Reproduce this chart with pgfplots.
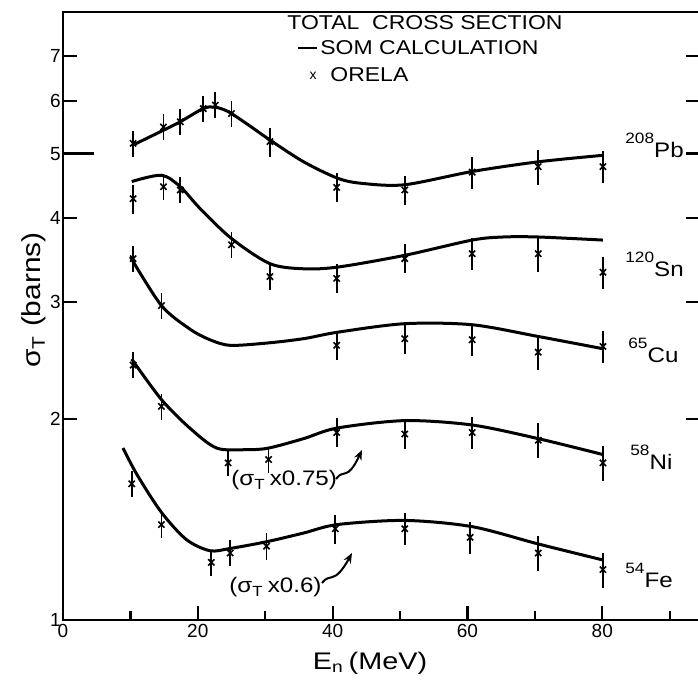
\documentclass[border=0pt]{standalone}
\usepackage{fontspec}
\setmainfont{Liberation Sans}
\usepackage{graphicx}
\usepackage{pgfplots}
\pgfplotsset{compat=1.18}
\usetikzlibrary{arrows.meta}
\newcommand\PX[2]{({(#1)*0.5pt},{(684-(#2))*0.5pt})}
\newcommand\wide[1]{\scalebox{1.15}[1]{#1}}
\newcommand\iso[2]{\wide{\raisebox{7pt}{\fontsize{7.5}{8}\selectfont #1}}\wide{#2}}
\begin{document}
\begin{tikzpicture}
\useasboundingbox (0,0) rectangle (349pt,342pt);
\begin{axis}[
  at={(31.5pt,32pt)}, anchor=south west, scale only axis,
  width=318.5pt, height=304pt,
  xmin=0, xmax=94.5, ymode=log, ymin=1, ymax=8.15,
  clip=false,
  axis line style={line width=1.4pt},
  every tick/.style={black, line width=1.1pt},
  tick align=inside,
  major tick length=7pt, minor tick length=4.5pt,
  xtick={0,20,40,60,80}, xticklabels={0,20,40,60,80},
  minor xtick={10,30,50,70,90},
  xtick pos=left,
  ytick={1,2,3,4,5,6,7}, yticklabels={1,2,3,4,5,6,7},
  minor ytick={},
  /pgf/number format/assume math mode=true,
  tick label style={font=\fontsize{9.5}{11}\selectfont},
  yticklabel style={inner sep=1pt},
  xticklabel style={inner sep=2pt},
]
% longer tick at 5 on the left axis
\draw[line width=1.1pt] (axis cs:0,5) -- (axis cs:4.6,5);
% ---- SOM calculation curves ----
\addplot[black, line width=1.5pt, smooth] coordinates {
 (10.4,5.15) (14.9,5.42) (17.4,5.58) (20.8,5.84) (22.5,5.87) (24.5,5.78)
 (27.5,5.52) (30.7,5.24) (35.7,4.86) (40.8,4.59) (44.5,4.51) (50.7,4.49)
 (60.7,4.70) (70.5,4.86) (80.1,4.97)};
\addplot[black, line width=1.5pt, smooth] coordinates {
 (10.2,4.54) (14.6,4.64) (17.4,4.46) (20.3,4.14) (25,3.73) (30.7,3.42)
 (35.7,3.36) (40.8,3.38) (50.7,3.52) (60.7,3.71) (65.3,3.75) (70.5,3.75) (80.1,3.71)};
\addplot[black, line width=1.5pt, smooth] coordinates {
 (10.0,3.50) (14.6,2.96) (18.8,2.73) (21.8,2.63) (24.8,2.58) (30.2,2.60)
 (35.7,2.64) (40.8,2.70) (50.7,2.78) (60.7,2.77) (70.5,2.66) (80.1,2.55)};
\addplot[black, line width=1.5pt, smooth] coordinates {
 (10.2,2.46) (14.6,2.14) (18.8,1.94) (22.8,1.81) (27.3,1.80) (30.5,1.81)
 (35.7,1.87) (40.7,1.94) (50.7,1.99) (60.7,1.96) (70.5,1.87) (80.1,1.77)};
\addplot[black, line width=1.5pt, smooth] coordinates {
 (8.9,1.81) (11,1.65) (14.6,1.45) (18.3,1.32) (21.8,1.27) (24.8,1.28)
 (30.2,1.31) (35.7,1.35) (40.7,1.39) (50.7,1.41) (60.7,1.38) (70.5,1.30) (80.1,1.23)};
% ---- ORELA data ----
\pgfplotsset{orela/.style={black, only marks, mark=x, mark size=2.2pt,
  mark options={line width=0.8pt},
  error bars/.cd, y dir=both, y explicit relative, error mark=none,
  error bar style={line width=0.9pt}}}
\addplot[orela] coordinates {
 (10.4,5.18) +- (0,0.045) (14.9,5.48) +- (0,0.045) (17.4,5.58) +- (0,0.045)
 (20.8,5.84) +- (0,0.045) (22.6,5.91) +- (0,0.045) (25,5.74) +- (0,0.045)
 (30.7,5.21) +- (0,0.05) (40.6,4.45) +- (0,0.05) (50.7,4.41) +- (0,0.05)
 (60.7,4.69) +- (0,0.055) (70.5,4.78) +- (0,0.06) (80.1,4.78) +- (0,0.055)};
\addplot[orela] coordinates {
 (10.4,4.28) +- (0,0.05) (14.9,4.46) +- (0,0.045) (17.4,4.41) +- (0,0.045)
 (25,3.65) +- (0,0.045) (30.7,3.27) +- (0,0.045) (40.6,3.25) +- (0,0.05)
 (50.7,3.48) +- (0,0.05) (60.7,3.54) +- (0,0.055) (70.5,3.54) +- (0,0.06)
 (80.1,3.32) +- (0,0.055)};
\addplot[orela] coordinates {
 (10.4,3.48) +- (0,0.045) (14.6,2.96) +- (0,0.045) (40.6,2.58) +- (0,0.05)
 (50.7,2.64) +- (0,0.05) (60.7,2.63) +- (0,0.055) (70.5,2.52) +- (0,0.06)
 (80.1,2.57) +- (0,0.055)};
\addplot[orela] coordinates {
 (10.4,2.41) +- (0,0.045) (14.6,2.09) +- (0,0.045) (24.5,1.72) +- (0,0.045)
 (30.5,1.74) +- (0,0.045) (40.6,1.91) +- (0,0.05) (50.7,1.90) +- (0,0.05)
 (60.7,1.91) +- (0,0.055) (70.5,1.86) +- (0,0.06) (80.1,1.72) +- (0,0.06)};
\addplot[orela] coordinates {
 (10.2,1.60) +- (0,0.045) (14.6,1.39) +- (0,0.045) (22,1.22) +- (0,0.045)
 (24.8,1.26) +- (0,0.045) (30.2,1.29) +- (0,0.045) (40.4,1.37) +- (0,0.05)
 (50.7,1.37) +- (0,0.055) (60.4,1.33) +- (0,0.055) (70.5,1.26) +- (0,0.06)
 (80.1,1.19) +- (0,0.06)};
\end{axis}
% ---- texts ----
\begin{scope}[every node/.style={inner sep=0pt}]
\node[anchor=base west, font=\fontsize{10}{12}\selectfont] at \PX{287}{30} {\wide{TOTAL\ \ CROSS SECTION}};
\draw[line width=1.2pt] \PX{298}{48} -- \PX{317}{48};
\node[anchor=base west, font=\fontsize{10}{12}\selectfont] at \PX{320}{55} {\wide{SOM CALCULATION}};
\node[anchor=base, font=\fontsize{7}{8}\selectfont] at \PX{313}{80} {x};
\node[anchor=base west, font=\fontsize{10}{12}\selectfont] at \PX{330}{82} {\wide{ORELA}};
\node[anchor=base west, font=\fontsize{10.5}{12}\selectfont] at \PX{625}{158} {\iso{208}{Pb}};
\node[anchor=base west, font=\fontsize{10.5}{12}\selectfont] at \PX{625}{277} {\iso{120}{Sn}};
\node[anchor=base west, font=\fontsize{10.5}{12}\selectfont] at \PX{628}{363} {\iso{65}{Cu}};
\node[anchor=base west, font=\fontsize{10.5}{12}\selectfont] at \PX{630}{470} {\iso{58}{Ni}};
\node[anchor=base west, font=\fontsize{10.5}{12}\selectfont] at \PX{625}{588} {\iso{54}{Fe}};
\node[anchor=base west, font=\fontsize{10.5}{12}\selectfont] at \PX{231}{486} {\wide{(σ\textsubscript{T}\,x0.75)}};
\node[anchor=base west, font=\fontsize{10.5}{12}\selectfont] at \PX{229}{593} {\wide{(σ\textsubscript{T}\,x0.6)}};
\node[rotate=90, font=\fontsize{13}{15}\selectfont] at \PX{34}{300} {\wide{σ\textsubscript{T} (barns)}};
\node[font=\fontsize{12}{14}\selectfont] at \PX{370}{663} {\scalebox{1.2}[1]{E\textsubscript{n}\,(MeV)}};
\end{scope}
\draw[line width=1pt, -{Stealth[length=5pt,width=4pt]}] \PX{336}{479} .. controls \PX{344}{468} and \PX{347}{482} .. \PX{362}{450};
\draw[line width=1pt, -{Stealth[length=5pt,width=4pt]}] \PX{322}{583} .. controls \PX{330}{572} and \PX{334}{586} .. \PX{352}{553};
\end{tikzpicture}
\end{document}
